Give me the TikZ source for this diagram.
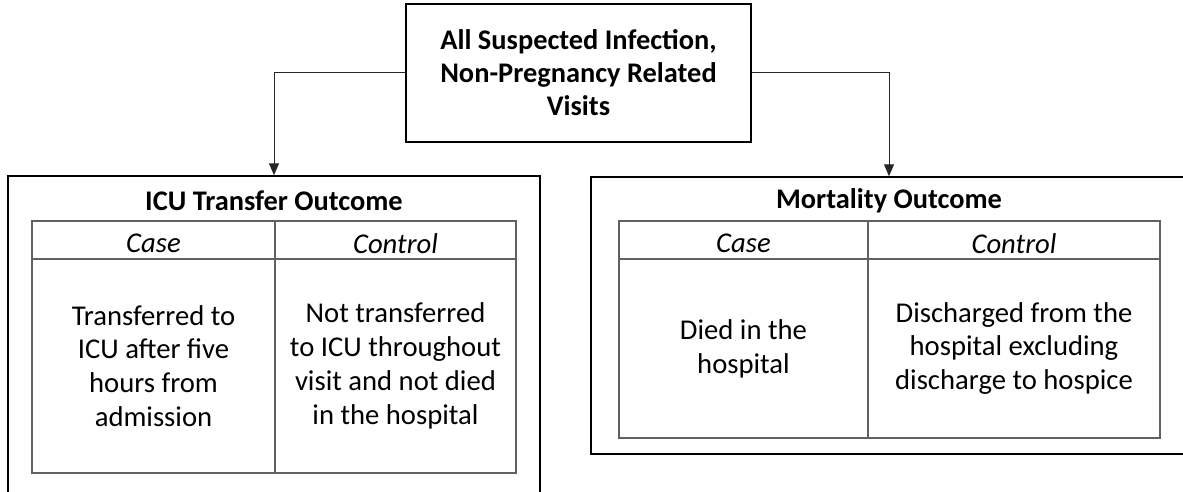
\documentclass[tikz,border=0pt]{standalone}
\usepackage{fontspec}
\setmainfont{Carlito}
\usetikzlibrary{arrows.meta,fit}
\begin{document}
\begin{tikzpicture}[x=0.75pt,y=-0.75pt,
  outerbox/.style={draw=black, line width=1.1pt, rectangle, inner sep=0pt},
  cellbox/.style={draw=black!62, line width=0.8pt, rectangle, inner sep=0pt},
  txt/.style={font=\fontsize{21.5}{25.4}\selectfont, align=center, inner sep=0pt, text=black},
  btxt/.style={txt, font=\fontsize{21.3}{24.75}\selectfont\bfseries},
  itxt/.style={txt, font=\fontsize{21.5}{25.4}\selectfont\itshape},
  conn/.style={draw=black!85, line width=0.75pt, -{Triangle[width=7.5pt,length=9pt]}}
]
\useasboundingbox (0,0) rectangle (1183,492);
\clip (0,0) rectangle (1183,492);

% top box
\node[outerbox, fit={(406,4) (751,142)}] (top) {};
\node[btxt] (toptext) at (578.5,73) {All Suspected Infection,\\Non-Pregnancy Related\\Visits};

% left outcome
\node[outerbox, fit={(8,176) (540,520)}] (left) {};
\node[btxt] (lefttitle) at (274,201) {ICU Transfer Outcome};
\node[cellbox, fit={(32,221) (275,259)}] (lh1) {};
\node[cellbox, fit={(275,221) (516,259)}] (lh2) {};
\node[cellbox, fit={(32,259) (275,473)}] (lb1) {};
\node[cellbox, fit={(275,259) (516,473)}] (lb2) {};
\node[itxt] (lh1t) at ([yshift=-2.5pt]lh1.center) {Case};
\node[itxt] (lh2t) at ([yshift=-2.5pt]lh2.center) {Control};
\node[txt] (lb1t) at (lb1.center) {Transferred to\\ICU after five\\hours from\\admission};
\node[txt] (lb2t) at (lb2.center) {Not transferred\\to ICU throughout\\visit and not died\\in the hospital};

% right outcome
\node[outerbox, fit={(591,177) (1187,454)}] (right) {};
\node[btxt] (righttitle) at (889,201) {Mortality Outcome};
\node[cellbox, fit={(619,221) (868,259)}] (rh1) {};
\node[cellbox, fit={(868,221) (1160,259)}] (rh2) {};
\node[cellbox, fit={(619,259) (868,438)}] (rb1) {};
\node[cellbox, fit={(868,259) (1160,438)}] (rb2) {};
\node[itxt] (rh1t) at ([yshift=-2.5pt]rh1.center) {Case};
\node[itxt] (rh2t) at ([yshift=-2.5pt]rh2.center) {Control};
\node[txt] (rb1t) at (rb1.center) {Died in the\\hospital};
\node[txt] (rb2t) at (rb2.center) {Discharged from the\\hospital excluding\\discharge to hospice};

% connectors
\draw[conn] (top.west) -| (left.north);
\draw[conn] (top.east) -| (right.north);
\end{tikzpicture}
\end{document}
